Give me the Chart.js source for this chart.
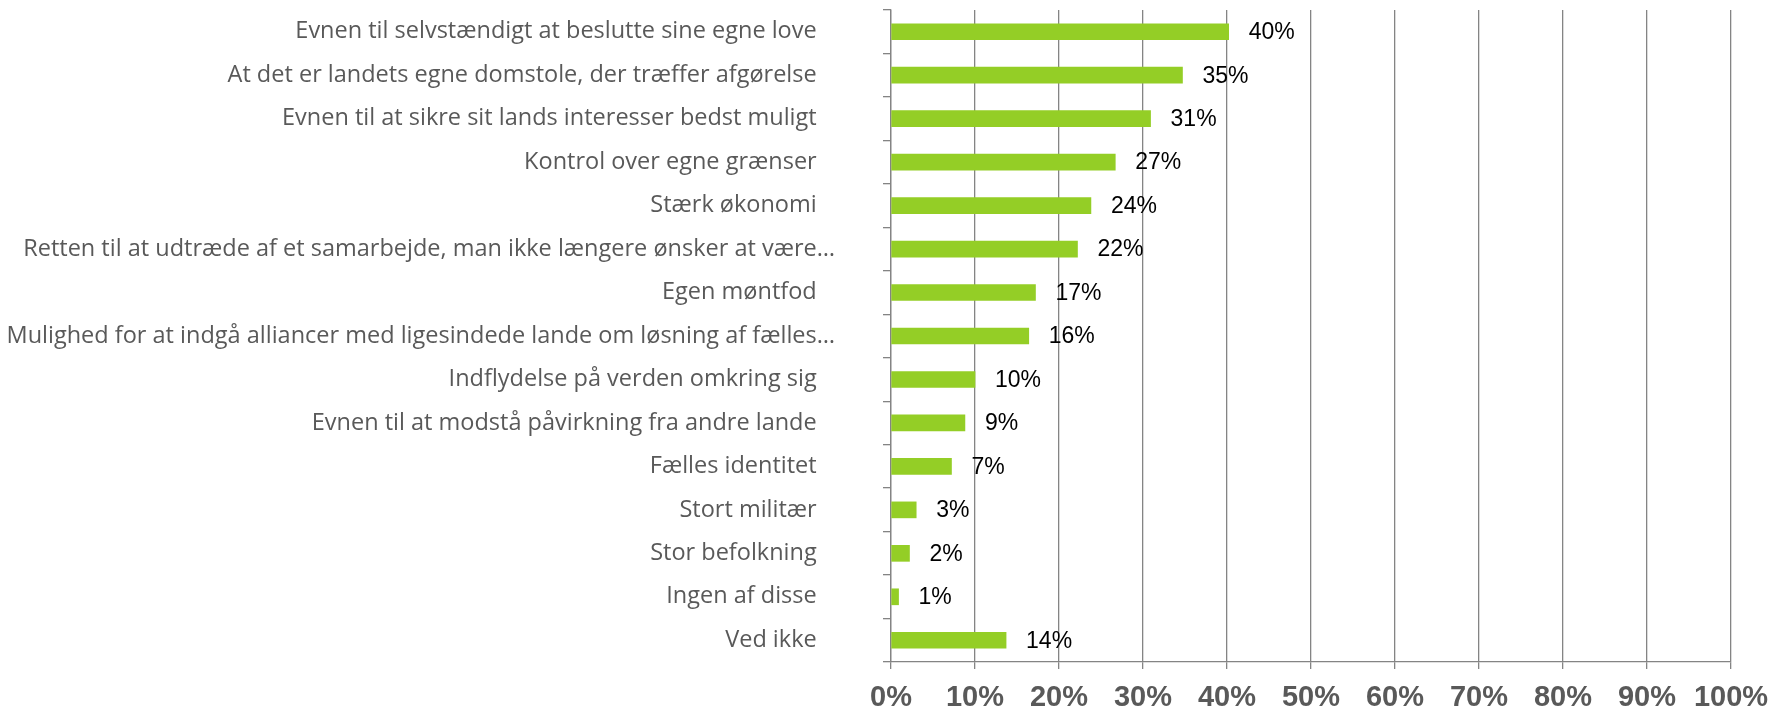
<!DOCTYPE html>
<html>
<head>
<meta charset="utf-8">
<script src="https://cdn.jsdelivr.net/npm/chart.js@4"></script>
<style>
  html, body { margin: 0; padding: 0; background: #fff; }
  #wrap { width: 1783px; height: 709px; }
</style>
</head>
<body>
<div id="wrap"><canvas id="chart"></canvas></div>
<script>
const categories = [
  "Evnen til selvstændigt at beslutte sine egne love",
  "At det er landets egne domstole, der træffer afgørelse",
  "Evnen til at sikre sit lands interesser bedst muligt",
  "Kontrol over egne grænser",
  "Stærk økonomi",
  "Retten til at udtræde af et samarbejde, man ikke længere ønsker at være…",
  "Egen møntfod",
  "Mulighed for at indgå alliancer med ligesindede lande om løsning af fælles…",
  "Indflydelse på verden omkring sig",
  "Evnen til at modstå påvirkning fra andre lande",
  "Fælles identitet",
  "Stort militær",
  "Stor befolkning",
  "Ingen af disse",
  "Ved ikke"
];
const values = [40.2, 34.7, 30.9, 26.7, 23.8, 22.2, 17.2, 16.4, 10.0, 8.8, 7.2, 3.0, 2.2, 0.9, 13.7];
const valueLabels = ["40%", "35%", "31%", "27%", "24%", "22%", "17%", "16%", "10%", "9%", "7%", "3%", "2%", "1%", "14%"];
const xTickLabels = ["0%", "10%", "20%", "30%", "40%", "50%", "60%", "70%", "80%", "90%", "100%"];

const gridColor = "#848484";
const textGray = "#595959";

// draws the percentage next to each bar
const valueLabelPlugin = {
  id: "valueLabels",
  afterDatasetsDraw(chart) {
    const ctx = chart.ctx;
    const meta = chart.getDatasetMeta(0);
    ctx.save();
    ctx.font = '23px "Liberation Sans", Arial, sans-serif';
    ctx.fillStyle = "#000";
    ctx.textBaseline = "middle";
    ctx.textAlign = "left";
    meta.data.forEach((bar, i) => {
      ctx.fillText(valueLabels[i], bar.x + 20, bar.y + 1);
    });
    ctx.restore();
  }
};

new Chart(document.getElementById("chart"), {
  type: "bar",
  data: {
    labels: categories,
    datasets: [{
      data: values,
      backgroundColor: "#94CE26",
      borderWidth: 0,
      barThickness: 16
    }]
  },
  options: {
    indexAxis: "y",
    responsive: true,
    maintainAspectRatio: false,
    animation: false,
    layout: { padding: { top: 10, right: 52, left: 0, bottom: 0 } },
    plugins: {
      legend: { display: false },
      tooltip: { enabled: false }
    },
    scales: {
      x: {
        min: 0,
        max: 100,
        afterFit: (scale) => { scale.height = 47; },
        ticks: {
          stepSize: 10,
          callback: (v, i) => xTickLabels[i],
          color: textGray,
          padding: 12,
          font: { family: '"Liberation Sans Narrow", "Liberation Sans", Arial, sans-serif', size: 29, weight: "bold" }
        },
        grid: { color: gridColor, lineWidth: 1.3, tickLength: 7 },
        border: { color: gridColor, width: 1.3 }
      },
      y: {
        afterFit: (scale) => {
          scale.width = 891;
          scale.paddingTop = 0;
          scale.paddingBottom = 0;
        },
        ticks: {
          autoSkip: false,
          color: textGray,
          padding: 48,
          // the full labels keep a trailing gap, the cut ones run to the edge
          callback: (v, i) => categories[i].endsWith("…") ? categories[i] : categories[i] + "   ",
          font: { family: '"Open Sans", "Noto Sans", sans-serif', size: 23.5 }
        },
        grid: { drawOnChartArea: false, offset: true, color: gridColor, lineWidth: 1.3, tickLength: 8 },
        border: { color: gridColor, width: 1.3 }
      }
    }
  },
  plugins: [valueLabelPlugin]
});
</script>
</body>
</html>
